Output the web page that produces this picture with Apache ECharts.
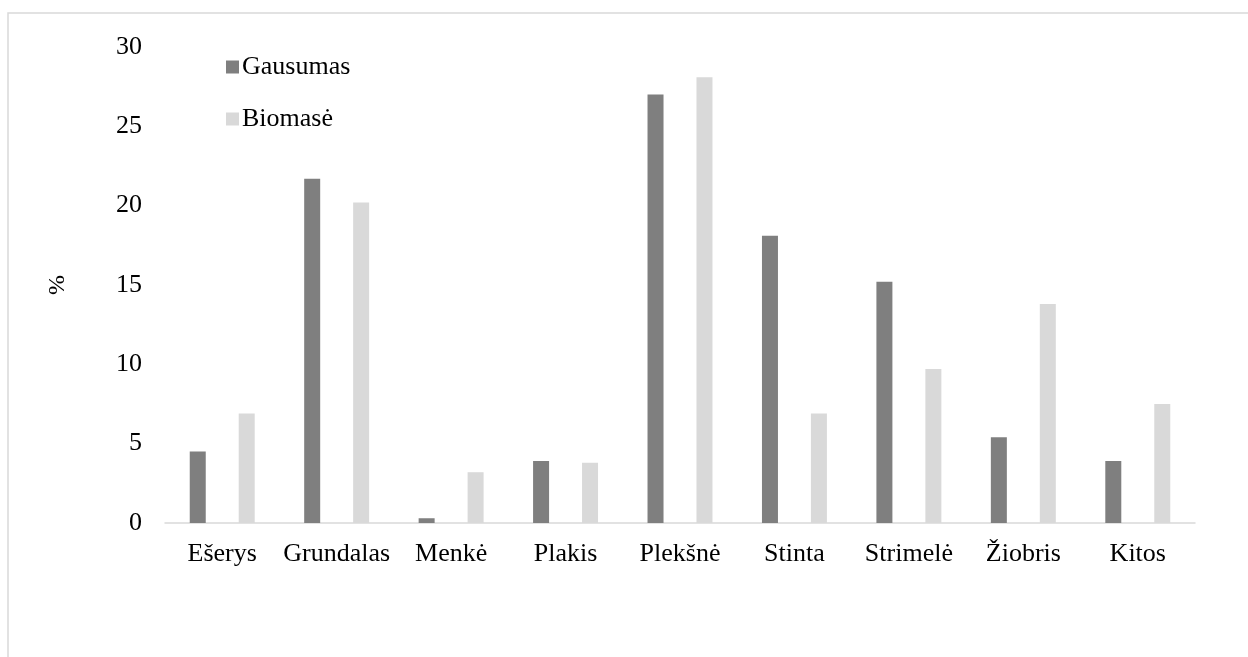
<!DOCTYPE html>
<html>
<head>
<meta charset="utf-8">
<script src="https://cdn.jsdelivr.net/npm/echarts@6/dist/echarts.min.js"></script>
<style>
html,body{margin:0;padding:0;background:#fff;}
#c{width:1248px;height:657px;}
</style>
</head>
<body>
<div id="c"></div>
<script>
const categories = ['Ešerys','Grundalas','Menkė','Plakis','Plekšnė','Stinta','Strimelė','Žiobris','Kitos'];
const gausumas = [4.5, 21.7, 0.3, 3.9, 27.0, 18.1, 15.2, 5.4, 3.9];
const biomase = [6.9, 20.2, 3.2, 3.8, 28.1, 6.9, 9.7, 13.8, 7.5];
const seriesNames = ['Gausumas', 'Biomasė'];
const yTicks = {min: 0, max: 30, interval: 5};

const FONT = '"Liberation Serif", "Times New Roman", serif';
const chart = echarts.init(document.getElementById('c'), null, {renderer: 'canvas'});
chart.setOption({
  backgroundColor: '#ffffff',
  animation: false,
  graphic: [{
    type: 'rect',
    shape: {x: 8, y: 13, width: 1300, height: 700},
    style: {fill: 'none', stroke: '#d9d9d9', lineWidth: 1.5},
    silent: true
  }],
  legend: {
    orient: 'vertical',
    left: 221,
    top: 49,
    itemWidth: 13,
    itemHeight: 13,
    itemGap: 26,
    icon: 'rect',
    textStyle: {fontFamily: FONT, fontSize: 26, color: '#000', padding: [0,0,0,-2]},
    data: seriesNames
  },
  grid: {left: 165, right: 53, top: 47, bottom: 134, containLabel: false},
  xAxis: {
    type: 'category',
    data: categories,
    axisLine: {lineStyle: {color: '#d9d9d9', width: 1.5}},
    axisTick: {show: false},
    axisLabel: {fontFamily: FONT, fontSize: 26, color: '#000', margin: 18, interval: 0}
  },
  yAxis: {
    type: 'value',
    min: yTicks.min, max: yTicks.max, interval: yTicks.interval,
    name: '%',
    nameLocation: 'middle',
    nameRotate: 90,
    nameGap: 95,
    nameTextStyle: {fontFamily: FONT, fontSize: 24, color: '#000'},
    axisLine: {show: false},
    axisTick: {show: false},
    splitLine: {show: false},
    axisLabel: {fontFamily: FONT, fontSize: 26, color: '#000', margin: 23}
  },
  series: [
    {name: seriesNames[0], type: 'bar', data: gausumas, barWidth: 16, barGap: '206%', itemStyle: {color: '#7f7f7f'}},
    {name: seriesNames[1], type: 'bar', data: biomase, barWidth: 16, barGap: '206%', itemStyle: {color: '#d9d9d9'}}
  ]
});
</script>
</body>
</html>
